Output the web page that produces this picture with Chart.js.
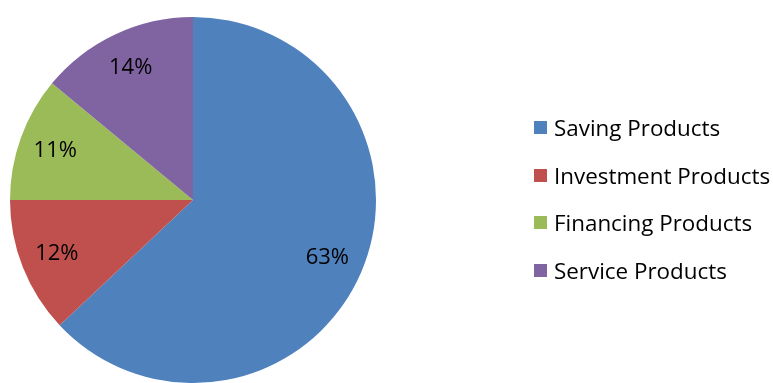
<!DOCTYPE html>
<html>
<head>
<meta charset="utf-8">
<script src="https://cdn.jsdelivr.net/npm/chart.js@4"></script>
<style>
  html, body { margin: 0; padding: 0; background: #fff; }
  #wrap { position: relative; width: 773px; height: 383px; overflow: hidden; }
  #c { position: absolute; left: 0; top: 0; }
  #legend { position: absolute; left: 534px; top: 0; font-family: "Open Sans", sans-serif; font-size: 22.4px; color: #000; }
  .item { position: absolute; left: 0; white-space: nowrap; display: flex; align-items: center; height: 30px; }
  .box { width: 13px; height: 13px; margin-right: 7px; flex: none; }
</style>
</head>
<body>
<div id="wrap">
  <canvas id="c" width="773" height="383"></canvas>
  <div id="legend"></div>
</div>
<script>
const categories = ["Saving Products", "Investment Products", "Financing Products", "Service Products"];
const values = [63, 12, 11, 14];
const labels = ["63%", "12%", "11%", "14%"];
const colors = ["#4F81BD", "#C0504D", "#9BBB59", "#8064A2"];

const sliceLabels = {
  id: "sliceLabels",
  afterDatasetsDraw(chart) {
    const ctx = chart.ctx;
    const meta = chart.getDatasetMeta(0);
    ctx.save();
    ctx.font = '22px "Open Sans", sans-serif';
    ctx.fillStyle = "#000";
    ctx.textAlign = "center";
    ctx.textBaseline = "middle";
    meta.data.forEach((arc, i) => {
      const p = arc.getProps(["x", "y", "startAngle", "endAngle", "outerRadius"], true);
      const mid = (p.startAngle + p.endAngle) / 2;
      const r = p.outerRadius * 0.8;
      ctx.fillText(labels[i], p.x + Math.cos(mid) * r, p.y + Math.sin(mid) * r);
    });
    ctx.restore();
  }
};

new Chart(document.getElementById("c"), {
  type: "pie",
  data: {
    labels: categories,
    datasets: [{
      data: values,
      backgroundColor: colors,
      borderWidth: 0,
      hoverOffset: 0
    }]
  },
  options: {
    responsive: false,
    animation: false,
    layout: { padding: { left: 10, top: 17, right: 397, bottom: 0 } },
    plugins: { legend: { display: false }, tooltip: { enabled: false } }
  },
  plugins: [sliceLabels]
});

const legend = document.getElementById("legend");
const rowCenters = [127, 175, 222, 270];
categories.forEach((name, i) => {
  const row = document.createElement("div");
  row.className = "item";
  row.style.top = (rowCenters[i] - 15) + "px";
  const box = document.createElement("span");
  box.className = "box";
  box.style.background = colors[i];
  const txt = document.createElement("span");
  txt.textContent = name;
  row.appendChild(box);
  row.appendChild(txt);
  legend.appendChild(row);
});
</script>
</body>
</html>
